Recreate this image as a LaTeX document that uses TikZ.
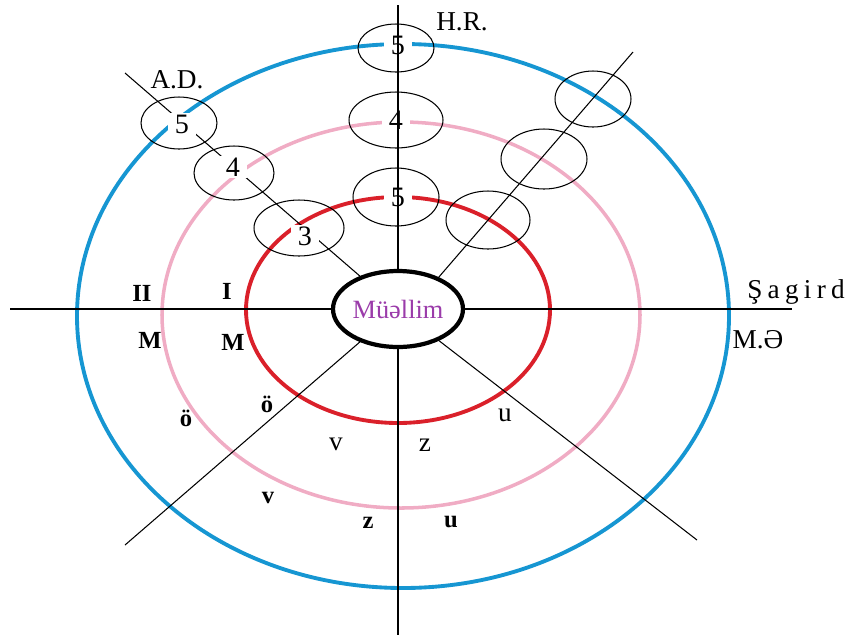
\documentclass[tikz,border=0pt]{standalone}
\usepackage{fontspec}
\setmainfont{Liberation Serif}
\usepackage{xcolor}
\usepackage{tikz}
\usetikzlibrary{shapes.geometric}
\definecolor{ringblue}{RGB}{22,150,210}
\definecolor{ringpink}{RGB}{240,172,196}
\definecolor{ringred}{RGB}{218,32,42}
\definecolor{teachpurple}{RGB}{155,60,170}
\tikzset{
  bluering/.style ={draw=ringblue,line width=2.2pt},
  pinkring/.style ={draw=ringpink,line width=2pt},
  redring/.style  ={draw=ringred,line width=2.2pt},
  oval/.style     ={ellipse,draw,line width=0.6pt,inner sep=0pt},
  num/.style      ={fill=white,inner xsep=4pt,inner ysep=1pt,font=\fontsize{16}{18}\selectfont},
  lbl/.style      ={font=\fontsize{15.5}{18}\selectfont},
  blbl/.style     ={font=\fontsize{14}{16}\selectfont\bfseries},
  axis/.style     ={black,line width=0.6pt},
  teacher/.style  ={ellipse,draw,line width=2.4pt,fill=white,minimum width=2.6cm,minimum height=1.52cm,inner sep=0pt,text=teachpurple,font=\fontsize{15}{17}\selectfont},
}

\begin{document}
\begin{tikzpicture}[x=0.02cm,y=-0.02cm]
  \useasboundingbox (0,0) rectangle (849,637);
  % rings
  \draw[bluering] (403,316) ellipse [x radius=326,y radius=272];
  \draw[pinkring] (401,315) ellipse [x radius=239,y radius=193];
  \draw[redring]  (398,310) ellipse [x radius=152,y radius=113];

  \node[teacher] (teacher) at (398,309) {Müəllim};

  \coordinate (adEnd) at (125,73);
  \coordinate (srEnd) at (633,52);
  \coordinate (llEnd) at (125,545);
  \coordinate (lrEnd) at (697,540);
  \coordinate (topEnd) at (398,5);
  \coordinate (botEnd) at (398,635);
  \coordinate (leftEnd) at (10,309);
  \coordinate (rightEnd) at (792,309);

  \draw[axis] (adEnd) -- (teacher);
  \draw[axis] (srEnd) -- (teacher.38);
  \draw[axis] (llEnd) -- (teacher);
  \draw[axis] (lrEnd) -- (teacher);

  % marks
  \node[num] (n5a) at (182,124) {5};
  \node[num] (n4a) at (233,167) {4};
  \node[num] (n3a) at (305,236) {3};
  \node[num] (n5h) at (398,45)  {5};
  \node[num] (n4h) at (396,120) {4};
  \node[num] (n5m) at (398,197) {5};

  \node[oval,minimum width=1.52cm,minimum height=1.04cm] (ad5) at (179,123) {};
  \node[oval,minimum width=1.6cm,minimum height=1.08cm]  (ad4) at (234,173) {};
  \node[oval,minimum width=1.8cm,minimum height=1.12cm]  (ad3) at (299,228) {};
  \node[oval,minimum width=1.52cm,minimum height=0.96cm] (hr5) at (396,48) {};
  \node[oval,minimum width=1.88cm,minimum height=1.12cm] (hr4) at (396,120) {};
  \node[oval,minimum width=1.72cm,minimum height=1.16cm] (hr3) at (396,197) {};
  \node[oval,minimum width=1.52cm,minimum height=1.12cm] (sg3) at (593,99) {};
  \node[oval,minimum width=1.72cm,minimum height=1.2cm]  (sg2) at (544,159) {};
  \node[oval,minimum width=1.68cm,minimum height=1.16cm] (sg1) at (488,220) {};

  \draw[axis] (topEnd) -- (teacher);
  \draw[axis] (teacher) -- (botEnd);
  \draw[axis] (leftEnd) -- (teacher);
  \draw[axis] (teacher) -- (rightEnd);

  % labels
  \node[lbl] (hr) at (462,22) {H.R.};
  \node[lbl] (ad) at (177,80) {A.D.};
  \node[lbl] (pupil) at (796,292) {Ş\hspace{3pt}a\hspace{3pt}g\hspace{3pt}i\hspace{3pt}r\hspace{3pt}d};
  \node[lbl] (me) at (758,340) {M.Ə};
  \node[blbl] (two) at (142,293) {II};
  \node[blbl] (one) at (227,291) {I};
  \node[blbl] (m2) at (150,340) {M};
  \node[blbl] (m1) at (233,342) {M};
  \node[blbl] (o2) at (186,418) {ö};
  \node[blbl] (o1) at (267,404) {ö};
  \node[lbl] (v1) at (336,444) {v};
  \node[lbl] (z1) at (425,445) {z};
  \node[lbl] (u1) at (505,415) {u};
  \node[blbl] (v2) at (268,498) {v};
  \node[blbl] (z2) at (368,523) {z};
  \node[blbl] (u2) at (451,522) {u};
\end{tikzpicture}
\end{document}
